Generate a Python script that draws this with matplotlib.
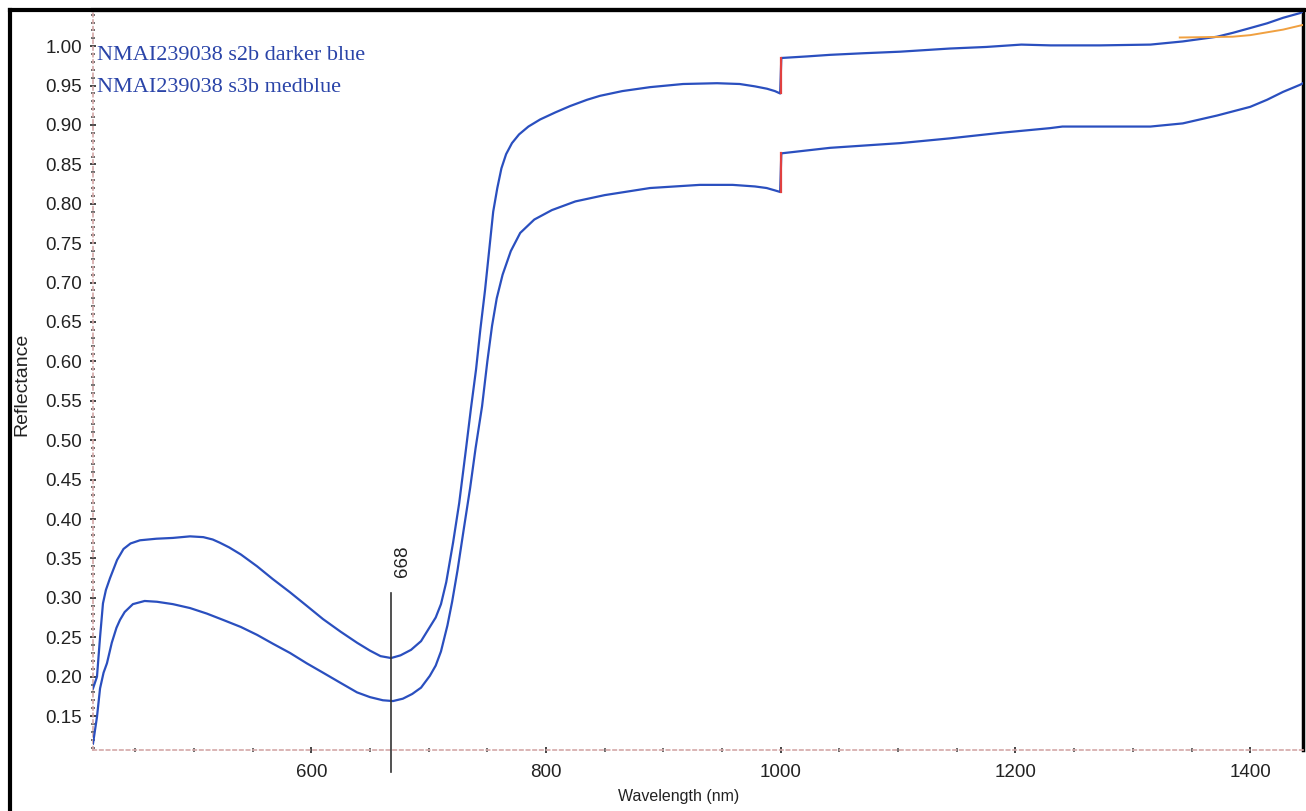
import matplotlib
matplotlib.use('Agg')
import matplotlib.pyplot as plt
from matplotlib.ticker import MultipleLocator, FormatStrFormatter
from matplotlib.lines import Line2D

# ---------------- data ----------------
upper_nm = [414, 417.4, 420, 422.5, 425, 428.5, 434.5, 440, 446, 454, 468, 482, 496.7, 508, 516,
            522, 530, 540, 553.8, 567, 581.9, 596, 610, 625, 639, 650, 659, 668, 676, 685,
            693.5, 701, 706, 710.5, 715, 720.8, 726, 731.9, 736, 740.4, 744, 748, 751.5, 755,
            758.5, 762, 766, 771, 777, 785, 795, 808, 820.5, 835, 846, 865, 888.6, 916.8,
            945.7, 965, 978, 988.3, 995, 999.5, 1000.5, 1022.4, 1042, 1070, 1101.7, 1144,
            1175, 1195, 1205, 1230, 1272, 1315, 1342.5, 1371.8, 1385.4, 1400, 1414.4, 1428,
            1442.5, 1445]
upper_val = [0.185, 0.20, 0.25, 0.293, 0.31, 0.325, 0.348, 0.362, 0.369, 0.373, 0.375, 0.376,
             0.378, 0.377, 0.374, 0.370, 0.364, 0.355, 0.340, 0.324, 0.307, 0.290, 0.273,
             0.257, 0.243, 0.233, 0.226, 0.2236, 0.227, 0.234, 0.245, 0.263, 0.275, 0.292,
             0.32, 0.37, 0.42, 0.49, 0.54, 0.59, 0.64, 0.69, 0.74, 0.79, 0.82, 0.845, 0.863,
             0.877, 0.888, 0.898, 0.907, 0.916, 0.924, 0.932, 0.937, 0.943, 0.948, 0.952,
             0.953, 0.952, 0.949, 0.946, 0.943, 0.940, 0.985, 0.987, 0.989, 0.991, 0.993,
             0.997, 0.999, 1.001, 1.002, 1.001, 1.001, 1.002, 1.006, 1.012, 1.017, 1.023,
             1.029, 1.036, 1.042, 1.044]

lower_nm = [414, 416, 417.4, 420, 423, 425.9, 430, 434, 437, 441, 448, 458, 468.5, 482, 496.7,
            511, 524.8, 540, 553.8, 567, 581.9, 596, 610, 625, 639, 650, 661, 669.6, 678, 686,
            693.5, 701, 706, 710.5, 716, 720, 724.6, 730, 735.3, 740, 745.5, 750, 754, 758,
            763, 770, 778, 790, 805, 825, 850, 888.6, 931, 959, 978, 988, 995, 999.5, 1000.5,
            1042, 1102, 1144, 1187, 1229.5, 1240, 1315, 1342.5, 1371.8, 1400, 1414.4, 1428,
            1442.5, 1445]
lower_val = [0.115, 0.135, 0.149, 0.185, 0.205, 0.217, 0.243, 0.262, 0.272, 0.282, 0.292,
             0.296, 0.295, 0.292, 0.287, 0.280, 0.272, 0.263, 0.253, 0.242, 0.230, 0.217,
             0.205, 0.192, 0.180, 0.174, 0.170, 0.169, 0.172, 0.178, 0.186, 0.201, 0.214,
             0.232, 0.265, 0.295, 0.335, 0.388, 0.439, 0.49, 0.543, 0.60, 0.645, 0.68, 0.71,
             0.74, 0.763, 0.780, 0.792, 0.803, 0.811, 0.820, 0.824, 0.824, 0.822, 0.820,
             0.817, 0.815, 0.864, 0.871, 0.877, 0.883, 0.890, 0.896, 0.898, 0.898, 0.902,
             0.912, 0.923, 0.932, 0.942, 0.951, 0.953]

orange_nm = [1340, 1385, 1400, 1428, 1445]
orange_val = [1.011, 1.012, 1.014, 1.021, 1.027]

legend_labels = ["NMAI239038 s2b darker blue", "NMAI239038 s3b medblue"]
marker_nm = 668
marker_label = "668"
y_ticks = [round(0.15 + 0.05 * i, 2) for i in range(18)]
x_ticks = [600, 800, 1000, 1200, 1400]

# ---------------- figure ----------------
W, H = 1306, 811
fig = plt.figure(figsize=(W / 100, H / 100), dpi=100)
fig.patch.set_facecolor('white')
ax = fig.add_axes([93 / W, 1 - 750 / H, (1303 - 93) / W, (750 - 10) / H])

curve_color = '#2a4fbf'
ax.plot(upper_nm, upper_val, color=curve_color, lw=1.6, zorder=3)
ax.plot(lower_nm, lower_val, color=curve_color, lw=1.6, zorder=3)
ax.plot(orange_nm, orange_val, color='#f0a040', lw=1.4, zorder=4)

# red step segments at the detector change
i_u = upper_nm.index(999.5)
i_l = lower_nm.index(999.5)
ax.plot([1000, 1000], [upper_val[i_u], upper_val[i_u + 1]], color='#e04040', lw=1.6, zorder=4)
ax.plot([1000, 1000], [lower_val[i_l], lower_val[i_l + 1]], color='#e04040', lw=1.6, zorder=4)

ax.set_xlim(414, 1445)
ax.set_ylim(0.1069, 1.0459)

# marker line
ax.plot([marker_nm, marker_nm], [0.306, 0.079], color='#333333', lw=1.2, clip_on=False, zorder=5)
ax.text(marker_nm + 10, 0.347, marker_label, rotation=90, ha='center', va='center',
        fontsize=13.5, family='Liberation Sans', color='#222222')

# ticks
ax.set_yticks(y_ticks)
ax.yaxis.set_major_formatter(FormatStrFormatter('%.2f'))
ax.yaxis.set_minor_locator(MultipleLocator(0.01))
ax.set_xticks(x_ticks)
ax.xaxis.set_minor_locator(MultipleLocator(50))
ax.tick_params(axis='both', which='major', direction='inout', length=4, width=1.4,
               color='#444444', labelsize=13.5, labelcolor='#222222')
ax.tick_params(axis='both', which='minor', direction='inout', length=3, width=1.2, color='#555555')
ax.tick_params(axis='y', pad=6)
ax.tick_params(axis='x', pad=8)
for lab in ax.get_xticklabels() + ax.get_yticklabels():
    lab.set_family('Liberation Sans')

ax.set_xlabel('Wavelength (nm)', fontsize=11.5, family='Liberation Sans', color='#222222',
              va='center')
ax.xaxis.set_label_coords((679 - 93) / 1210, (750 - 797) / 740)
ax.set_ylabel('Reflectance', fontsize=14, family='Liberation Sans', color='#222222',
              va='center')
ax.yaxis.set_label_coords((22 - 93) / 1210, (750 - 384) / 740)

for side in ('left', 'bottom'):
    ax.spines[side].set_color('#d4a8a8')
    ax.spines[side].set_linestyle((0, (2, 2)))
    ax.spines[side].set_linewidth(1.2)
ax.spines['top'].set_color('black')
ax.spines['top'].set_linewidth(3)
ax.spines['right'].set_color('black')
ax.spines['right'].set_linewidth(2.5)

# legend texts
text_color = '#2a44a8'
fig.text(97 / W, 1 - 56 / H, legend_labels[0], fontsize=16, family='Liberation Serif',
         color=text_color, va='center', ha='left')
fig.text(97 / W, 1 - 87 / H, legend_labels[1], fontsize=16, family='Liberation Serif',
         color=text_color, va='center', ha='left')

# outer frame
fig.add_artist(Line2D([10 / W, 10 / W], [0, 1 - 10 / H], color='black', lw=3))
fig.add_artist(Line2D([10 / W, 1], [1 - 10 / H, 1 - 10 / H], color='black', lw=3))

fig.savefig('out.png', dpi=100, facecolor='white')
